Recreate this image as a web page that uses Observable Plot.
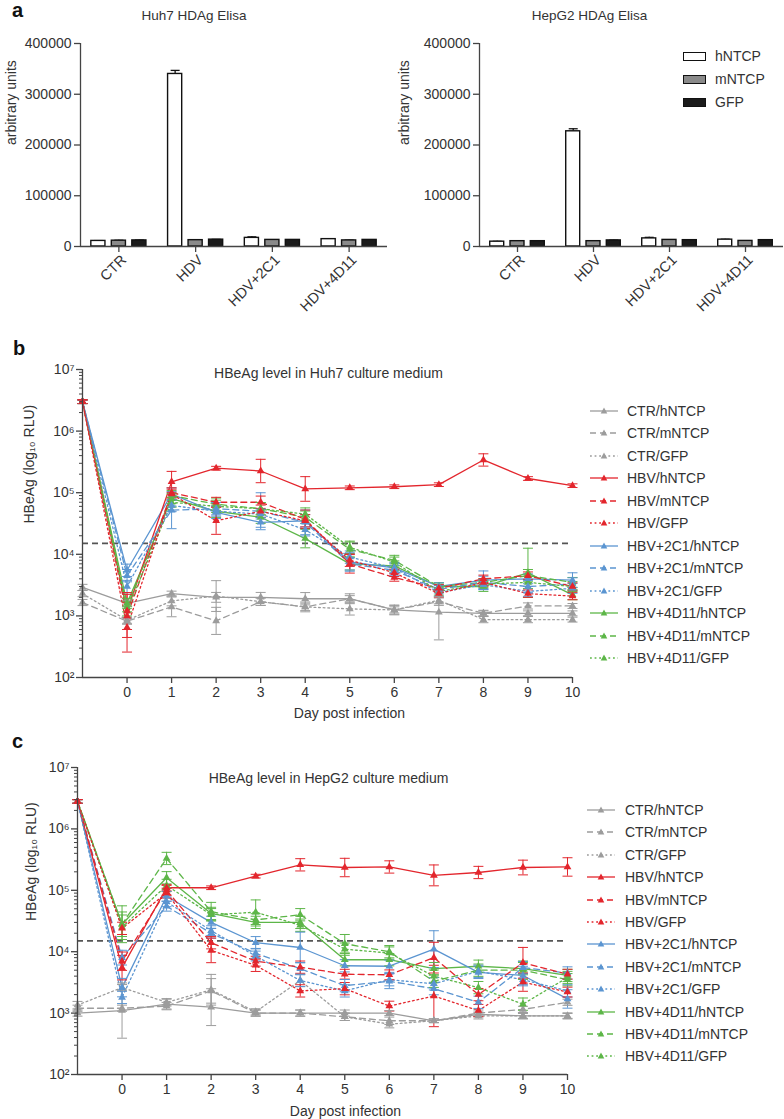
<!DOCTYPE html>
<html><head><meta charset="utf-8">
<script src="https://cdn.jsdelivr.net/npm/d3@7"></script>
<script src="https://cdn.jsdelivr.net/npm/@observablehq/plot@0.6"></script>
<style>
body{margin:0;background:#fff;}
#root{position:relative;width:784px;height:1119px;overflow:hidden;font-family:"Liberation Sans",Arial,sans-serif;color:#333;}
.letter{position:absolute;font-weight:bold;font-size:20px;line-height:20px;color:#111;}
.leg{position:absolute;font-size:14px;line-height:16px;white-space:nowrap;display:flex;align-items:center;color:#333;}
</style></head><body><div id="root"></div>
<script>
// ---------- Panel a data ----------
const groupsA = ["CTR", "HDV", "HDV+2C1", "HDV+4D11"];
const constructs = ["hNTCP", "mNTCP", "GFP"];
const huh7_hNTCP = [11000, 340000, 17000, 14500];
const huh7_mNTCP = [11500, 12500, 13000, 12000];
const huh7_GFP   = [12000, 13500, 13000, 13000];
const huh7_err_hNTCP = [600, 7000, 2000, 600];
const huh7_err_mNTCP = [700, 500, 500, 500];
const huh7_err_GFP   = [600, 500, 500, 500];
const hepg2_hNTCP = [9500, 227000, 16000, 13500];
const hepg2_mNTCP = [10500, 10500, 13000, 11000];
const hepg2_GFP   = [10500, 12000, 12500, 12500];
const hepg2_err_hNTCP = [600, 5000, 2000, 800];
const hepg2_err_mNTCP = [500, 500, 500, 500];
const hepg2_err_GFP   = [500, 500, 500, 500];
const yTicksA = [0, 100000, 200000, 300000, 400000];

// ---------- Panels b/c data ----------
const days = [-1, 0, 1, 2, 3, 4, 5, 6, 7, 8, 9, 10];
const dayTicks = [0, 1, 2, 3, 4, 5, 6, 7, 8, 9, 10];
const seriesNames = ["CTR/hNTCP","CTR/mNTCP","CTR/GFP","HBV/hNTCP","HBV/mNTCP","HBV/GFP",
  "HBV+2C1/hNTCP","HBV+2C1/mNTCP","HBV+2C1/GFP","HBV+4D11/hNTCP","HBV+4D11/mNTCP","HBV+4D11/GFP"];
const treatments = ["CTR", "HBV", "HBV+2C1", "HBV+4D11"];
const treatmentColors = ["#9c9c9c", "#e3262d", "#5b95d1", "#5db648"];
const drawOrder = ["CTR", "HBV+4D11", "HBV+2C1", "HBV"];
const threshold = 15000;
const logTicks = [1e2, 1e3, 1e4, 1e5, 1e6, 1e7];

// Huh7 (panel b) values, days -1..10
const huh7_CTR_h  = [2900, 1600, 2300, 2000, 2000, 1900, 1900, 1250, 1150, 1100, 1100, 1100];
const huh7_CTR_m  = [1650, 820, 1400, 830, 1700, 1400, 1900, 1250, 1700, 1100, 1450, 1450];
const huh7_CTR_g  = [2300, 850, 1750, 2100, 1700, 1400, 1300, 1250, 1800, 870, 870, 870];
const huh7_HBV_h  = [3000000, 1200, 150000, 250000, 225000, 115000, 120000, 125000, 135000, 340000, 170000, 130000];
const huh7_HBV_m  = [3000000, 1000, 100000, 70000, 70000, 37000, 7000, 4200, 2800, 4000, 4500, 3000];
const huh7_HBV_g  = [3000000, 650, 95000, 35000, 50000, 35000, 8000, 5000, 2300, 3500, 2300, 2100];
const huh7_2C1_h  = [3000000, 5500, 95000, 48000, 33000, 35000, 7500, 6000, 3000, 3800, 4000, 3800];
const huh7_2C1_m  = [3000000, 4500, 52000, 55000, 50000, 33000, 7000, 5500, 2700, 3500, 3000, 3300];
const huh7_2C1_g  = [3000000, 3000, 62000, 50000, 45000, 25000, 9000, 6000, 2400, 3200, 2500, 2800];
const huh7_4D11_h = [3000000, 1600, 80000, 50000, 40000, 18000, 7000, 6500, 3000, 3000, 5000, 2200];
const huh7_4D11_m = [3000000, 1400, 90000, 65000, 55000, 40000, 12000, 8000, 3000, 3500, 4500, 3500];
const huh7_4D11_g = [3000000, 1200, 70000, 60000, 55000, 45000, 13000, 7500, 2500, 3300, 3500, 3000];
// Huh7 error bar half-widths (decades)
const huh7e_CTR_h  = [0.05,0.05,0.04,0.08,0.08,0.1,0.05,0.05,0.45,0.04,0.04,0.04];
const huh7e_CTR_m  = [0.05,0.05,0.16,0.22,0.06,0.08,0.08,0.07,0.06,0.05,0.05,0.04];
const huh7e_CTR_g  = [0.05,0.05,0.08,0.25,0.06,0.06,0.1,0.08,0.06,0.05,0.05,0.04];
const huh7e_HBV_h  = [0.03,0.3,0.17,0.03,0.19,0.2,0.03,0.03,0.03,0.1,0.03,0.03];
const huh7e_HBV_m  = [0.03,0.35,0.08,0.08,0.1,0.15,0.15,0.06,0.06,0.06,0.06,0.06];
const huh7e_HBV_g  = [0.03,0.4,0.08,0.22,0.1,0.1,0.1,0.06,0.06,0.06,0.06,0.06];
const huh7e_2C1_h  = [0.03,0.1,0.1,0.1,0.08,0.1,0.15,0.08,0.06,0.15,0.08,0.12];
const huh7e_2C1_m  = [0.03,0.1,0.3,0.1,0.3,0.2,0.1,0.08,0.06,0.1,0.1,0.1];
const huh7e_2C1_g  = [0.03,0.1,0.1,0.08,0.08,0.1,0.1,0.08,0.06,0.08,0.08,0.08];
const huh7e_4D11_h = [0.03,0.08,0.08,0.1,0.1,0.15,0.1,0.08,0.06,0.08,0.4,0.08];
const huh7e_4D11_m = [0.03,0.08,0.08,0.1,0.1,0.1,0.12,0.08,0.06,0.06,0.1,0.08];
const huh7e_4D11_g = [0.03,0.08,0.08,0.1,0.1,0.1,0.1,0.08,0.06,0.06,0.1,0.08];

// HepG2 (panel c) values, days -1..10
const hepg2_CTR_h  = [1000, 1100, 1400, 1250, 1000, 1000, 1000, 1000, 750, 950, 900, 900];
const hepg2_CTR_m  = [1200, 1200, 1300, 2300, 1000, 1000, 870, 750, 750, 1000, 1150, 1500];
const hepg2_CTR_g  = [1350, 2600, 1500, 2400, 1050, 3400, 870, 660, 750, 900, 900, 900];
const hepg2_HBV_h  = [2800000, 5500, 110000, 110000, 170000, 260000, 235000, 240000, 175000, 195000, 235000, 240000];
const hepg2_HBV_m  = [2800000, 7000, 100000, 14000, 7000, 5600, 4300, 4200, 8000, 2000, 6600, 4300];
const hepg2_HBV_g  = [2800000, 24000, 90000, 10500, 6000, 2300, 2500, 1300, 1900, 1100, 3200, 2200];
const hepg2_2C1_h  = [2800000, 2600, 80000, 30000, 14000, 11700, 5900, 5800, 11000, 4600, 4100, 1700];
const hepg2_2C1_m  = [2800000, 8000, 55000, 20000, 9400, 5300, 2800, 3300, 2500, 1500, 5500, 4500];
const hepg2_2C1_g  = [2800000, 1800, 65000, 22000, 8500, 3400, 2300, 3500, 3000, 4800, 3500, 2300];
const hepg2_4D11_h = [2800000, 28000, 160000, 42000, 30000, 30000, 7400, 7400, 5300, 5800, 5300, 4100];
const hepg2_4D11_m = [2800000, 28000, 330000, 45000, 33000, 40000, 13500, 10000, 3300, 5000, 5000, 3500];
const hepg2_4D11_g = [2800000, 25000, 120000, 40000, 44000, 27000, 11000, 9500, 4000, 2600, 1400, 3800];
// HepG2 error bar half-widths (decades)
const hepg2e_CTR_h  = [0.05,0.45,0.08,0.3,0.05,0.05,0.05,0.04,0.03,0.04,0.04,0.04];
const hepg2e_CTR_m  = [0.05,0.05,0.06,0.2,0.05,0.05,0.06,0.06,0.03,0.05,0.05,0.05];
const hepg2e_CTR_g  = [0.06,0.05,0.06,0.25,0.05,0.1,0.06,0.06,0.03,0.05,0.05,0.05];
const hepg2e_HBV_h  = [0.03,0.2,0.05,0.03,0.03,0.1,0.15,0.1,0.17,0.1,0.12,0.15];
const hepg2e_HBV_m  = [0.03,0.15,0.08,0.1,0.08,0.1,0.08,0.08,0.25,0.1,0.25,0.08];
const hepg2e_HBV_g  = [0.03,0.1,0.08,0.2,0.1,0.1,0.1,0.08,0.5,0.1,0.15,0.08];
const hepg2e_2C1_h  = [0.03,0.15,0.08,0.1,0.1,0.25,0.1,0.1,0.3,0.1,0.15,0.15];
const hepg2e_2C1_m  = [0.03,0.12,0.08,0.08,0.08,0.1,0.1,0.12,0.1,0.1,0.1,0.1];
const hepg2e_2C1_g  = [0.03,0.1,0.08,0.08,0.08,0.1,0.1,0.1,0.1,0.1,0.1,0.1];
const hepg2e_4D11_h = [0.03,0.2,0.1,0.1,0.1,0.1,0.1,0.1,0.1,0.1,0.1,0.1];
const hepg2e_4D11_m = [0.03,0.3,0.1,0.15,0.1,0.1,0.15,0.1,0.1,0.1,0.15,0.1];
const hepg2e_4D11_g = [0.03,0.2,0.1,0.1,0.2,0.1,0.1,0.1,0.1,0.1,0.1,0.1];

const huh7Vals = [huh7_CTR_h, huh7_CTR_m, huh7_CTR_g, huh7_HBV_h, huh7_HBV_m, huh7_HBV_g, huh7_2C1_h, huh7_2C1_m, huh7_2C1_g, huh7_4D11_h, huh7_4D11_m, huh7_4D11_g];
const huh7Errs = [huh7e_CTR_h, huh7e_CTR_m, huh7e_CTR_g, huh7e_HBV_h, huh7e_HBV_m, huh7e_HBV_g, huh7e_2C1_h, huh7e_2C1_m, huh7e_2C1_g, huh7e_4D11_h, huh7e_4D11_m, huh7e_4D11_g];
const hepg2Vals = [hepg2_CTR_h, hepg2_CTR_m, hepg2_CTR_g, hepg2_HBV_h, hepg2_HBV_m, hepg2_HBV_g, hepg2_2C1_h, hepg2_2C1_m, hepg2_2C1_g, hepg2_4D11_h, hepg2_4D11_m, hepg2_4D11_g];
const hepg2Errs = [hepg2e_CTR_h, hepg2e_CTR_m, hepg2e_CTR_g, hepg2e_HBV_h, hepg2e_HBV_m, hepg2e_HBV_g, hepg2e_2C1_h, hepg2e_2C1_m, hepg2e_2C1_g, hepg2e_4D11_h, hepg2e_4D11_m, hepg2e_4D11_g];

// ---------- helpers ----------
const FONT = '"Liberation Sans", Arial, sans-serif';
const AX = "#444";
const root = document.getElementById("root");
const capSymbol = {draw(ctx, size) { const w = Math.sqrt(size / Math.PI); ctx.moveTo(-w, 0); ctx.lineTo(w, 0); }};
const dashFor = {hNTCP: null, mNTCP: "6,4", GFP: "1.8,2.8"};
const supDigits = {"0":"⁰","1":"¹","2":"²","3":"³","4":"⁴","5":"⁵","6":"⁶","7":"⁷","8":"⁸","9":"⁹"};
const supFmt = d => "10" + String(Math.round(Math.log10(d))).split("").map(c => supDigits[c]).join("");
const minorTicks = [];
for (let e = 2; e < 7; e++) for (let k = 2; k <= 9; k++) minorTicks.push(k * 10 ** e);

function place(el, left, top) {
  el.style.position = "absolute"; el.style.left = left + "px"; el.style.top = top + "px";
  root.appendChild(el);
}

function barChart({vals, errs, title, width, ml, mr, titleDx, ylDx}) {
  const rows = [];
  constructs.forEach((c, ci) => groupsA.forEach((g, gi) => {
    const xc = gi + (ci - 1) * 0.267;
    rows.push({group: g, construct: c, xc, x1: xc - 0.092, x2: xc + 0.092, value: vals[ci][gi], top: vals[ci][gi] + errs[ci][gi]});
  }));
  return Plot.plot({
    width, height: 340, marginLeft: ml, marginRight: mr, marginTop: 43, marginBottom: 94,
    style: {fontFamily: FONT, fontSize: "14px", color: "#333", overflow: "visible", background: "transparent"},
    x: {domain: [-0.5, 3.5], label: null},
    y: {domain: [0, 400000], label: null},
    color: {domain: constructs, range: ["#ffffff", "#8a8a8a", "#1b1b1b"]},
    marks: [
      Plot.ruleX(rows, {x: "xc", y1: "value", y2: "top", stroke: "#111", strokeWidth: 1.3}),
      Plot.dot(rows, {x: "xc", y: "top", symbol: capSymbol, r: 4.5, stroke: "#111", fill: "none", strokeWidth: 1.3}),
      Plot.rect(rows, {x1: "x1", x2: "x2", y1: 0, y2: "value", fill: "construct", stroke: "#111", strokeWidth: 1.4}),
      Plot.ruleX([-0.5], {stroke: AX, strokeWidth: 1.3}),
      Plot.ruleY([0], {stroke: AX, strokeWidth: 1.3}),
      Plot.axisY({ticks: yTicksA, tickFormat: d => String(d), tickSize: 6, tickPadding: 3, stroke: AX, strokeWidth: 1.3, fontSize: 14}),
      Plot.axisX({ticks: [0, 1, 2, 3], tickSize: 6, tickFormat: () => "", stroke: AX, strokeWidth: 1.3}),
      Plot.axisX({ticks: [0, 1, 2, 3], tickFormat: i => groupsA[i], tickRotate: -45, tickSize: 0, tickPadding: 11, dx: 5, fontSize: 14.5}),
      Plot.text([title], {frameAnchor: "top", dy: -33, dx: titleDx, fontSize: 13.5, fill: "#333"}),
      Plot.text(["arbitrary units"], {frameAnchor: "left", rotate: -90, dx: ylDx, fontSize: 14, fill: "#333"})
    ]
  });
}

function lineChart({vals, errs, title, height, ml, mr, mt, mb, titleDx, titleDy, xlDx, xlDy, ylDx}) {
  const rows = [];
  seriesNames.forEach((name, s) => {
    const [t, c] = name.split("/");
    days.forEach((d, i) => {
      const v = vals[s][i], e = errs[s][i];
      rows.push({series: name, treatment: t, construct: c, day: d, value: v, lo: v / 10 ** e, hi: v * 10 ** e});
    });
  });
  rows.sort((a, b) => drawOrder.indexOf(a.treatment) - drawOrder.indexOf(b.treatment));
  return Plot.plot({
    width: 784, height, marginLeft: ml, marginRight: mr, marginTop: mt, marginBottom: mb,
    style: {fontFamily: FONT, fontSize: "14px", color: "#333", overflow: "visible", background: "transparent"},
    x: {domain: [-1, 10], label: null},
    y: {type: "log", domain: [1e2, 1e7], label: null},
    color: {domain: treatments, range: treatmentColors},
    marks: [
      Plot.ruleY([threshold], {stroke: "#555", strokeWidth: 1.7, strokeDasharray: "6,4"}),
      ...constructs.map(c => Plot.line(rows.filter(r => r.construct === c),
        {x: "day", y: "value", z: "series", stroke: "treatment", strokeWidth: 1.3, strokeDasharray: dashFor[c]})),
      Plot.ruleX(rows, {x: "day", y1: "lo", y2: "hi", stroke: "treatment", strokeWidth: 1}),
      Plot.dot(rows, {x: "day", y: "lo", symbol: capSymbol, r: 5, stroke: "treatment", fill: "none", strokeWidth: 1}),
      Plot.dot(rows, {x: "day", y: "hi", symbol: capSymbol, r: 5, stroke: "treatment", fill: "none", strokeWidth: 1}),
      Plot.dot(rows, {x: "day", y: "value", symbol: "triangle", r: 2.9, fill: "treatment", stroke: "none"}),
      Plot.ruleX([-1], {stroke: AX, strokeWidth: 1.3}),
      Plot.ruleY([1e2], {stroke: AX, strokeWidth: 1.3}),
      Plot.axisY({ticks: logTicks, tickFormat: supFmt, tickSize: 6, tickPadding: 2, stroke: AX, strokeWidth: 1.3, fontSize: 14}),
      Plot.axisY({ticks: minorTicks, tickFormat: () => "", tickSize: 3, stroke: AX, strokeWidth: 1}),
      Plot.axisX({ticks: dayTicks, tickSize: 6, tickPadding: 4, stroke: AX, strokeWidth: 1.3, fontSize: 14}),
      Plot.text([title], {frameAnchor: "top", dy: titleDy, dx: titleDx, fontSize: 14, fill: "#333"}),
      Plot.text(["Day post infection"], {frameAnchor: "bottom", dy: xlDy, dx: xlDx, fontSize: 14, fill: "#333"}),
      Plot.text(["HBeAg (log₁₀ RLU)"], {frameAnchor: "left", rotate: -90, dx: ylDx, fontSize: 14, fill: "#333"})
    ]
  });
}

function lineLegend(left, textGap, top0, step) {
  seriesNames.forEach((name, i) => {
    const [t, c] = name.split("/");
    const col = treatmentColors[treatments.indexOf(t)];
    const row = document.createElement("div");
    row.className = "leg";
    row.style.left = left + "px";
    row.style.top = (top0 + i * step - 8) + "px";
    const dash = dashFor[c] ? `stroke-dasharray="${dashFor[c]}"` : "";
    row.innerHTML = `<svg width="28" height="10" style="margin-right:${textGap}px;overflow:visible">
      <line x1="0" x2="28" y1="5" y2="5" stroke="${col}" stroke-width="1.3" ${dash}></line>
      <polygon points="14,1.6 17.3,7.4 10.7,7.4" fill="${col}"></polygon></svg><span>${name}</span>`;
    root.appendChild(row);
  });
}

// ---------- Panel a ----------
place(barChart({vals: [huh7_hNTCP, huh7_mNTCP, huh7_GFP], errs: [huh7_err_hNTCP, huh7_err_mNTCP, huh7_err_GFP],
  title: "Huh7 HDAg Elisa", width: 395, ml: 80, mr: 8, titleDx: -40, ylDx: -69}), 0, 0);
place(barChart({vals: [hepg2_hNTCP, hepg2_mNTCP, hepg2_GFP], errs: [hepg2_err_hNTCP, hepg2_err_mNTCP, hepg2_err_GFP],
  title: "HepG2 HDAg Elisa", width: 396, ml: 91, mr: 1, titleDx: -42, ylDx: -75}), 388, 0);
constructs.forEach((c, i) => {
  const row = document.createElement("div");
  row.className = "leg";
  row.style.left = "683px";
  row.style.top = (56 + i * 23 - 8) + "px";
  const fill = ["#ffffff", "#8a8a8a", "#1b1b1b"][i];
  row.innerHTML = `<div style="width:21px;height:7px;border:1.4px solid #111;background:${fill};margin-right:9px"></div><span>${c}</span>`;
  root.appendChild(row);
});

// ---------- Panel b ----------
place(lineChart({vals: huh7Vals, errs: huh7Errs, title: "HBeAg level in Huh7 culture medium",
  height: 395, ml: 82, mr: 212, mt: 34, mb: 53, titleDx: 1, titleDy: -1, xlDx: 22, xlDy: 40, ylDx: -53}), 0, 335);
lineLegend(590, 9, 411, 22.45);

// ---------- Panel c ----------
place(lineChart({vals: hepg2Vals, errs: hepg2Errs, title: "HBeAg level in HepG2 culture medium",
  height: 384, ml: 77, mr: 217, mt: 32, mb: 45, titleDx: 6, titleDy: 6, xlDx: 23, xlDy: 41, ylDx: -46}), 0, 735);
lineLegend(587, 10, 810, 22.4);

// panel letters
[["a", 12, 0], ["b", 13, 338], ["c", 12, 731]].forEach(([t, x, y]) => {
  const d = document.createElement("div"); d.className = "letter"; d.textContent = t;
  d.style.left = x + "px"; d.style.top = y + "px"; root.appendChild(d);
});
</script></body></html>
